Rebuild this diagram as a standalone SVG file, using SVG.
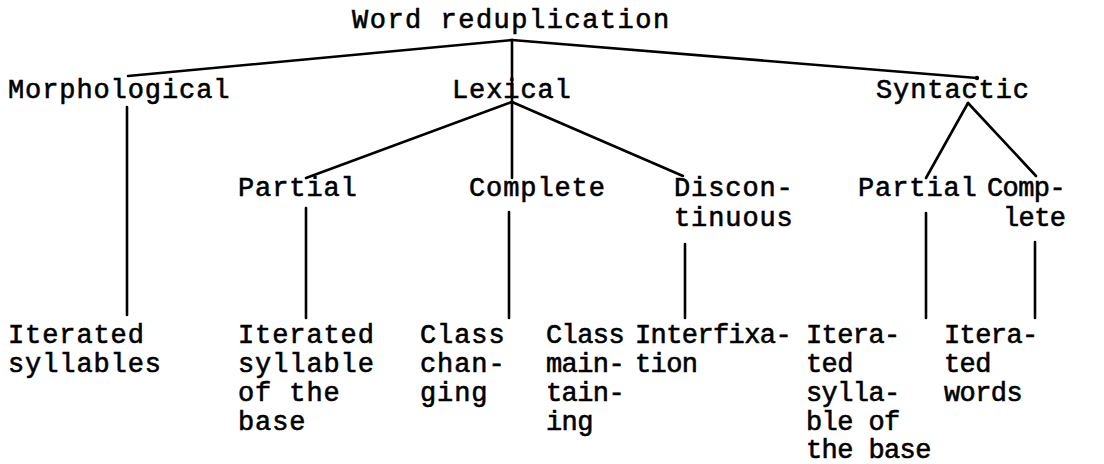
<svg xmlns="http://www.w3.org/2000/svg" width="1104" height="464" viewBox="0 0 1104 464">
  <style>
    text { font-family: "Liberation Mono", "DejaVu Sans Mono", monospace; font-size: 27px; letter-spacing: 0.9px; fill: #000; stroke: #000; stroke-width: 0.6px; }
    text.tight { letter-spacing: -0.6px; }
    text.wide { letter-spacing: 1.5px; }
    .edge { stroke: #000; stroke-width: 2.6; fill: none; stroke-linecap: round; stroke-linejoin: round; }
  </style>
  <rect width="1104" height="464" fill="#fff"/>

  <!-- tree edges -->
  <g id="connectors">
    <line class="edge" x1="512" y1="40" x2="128" y2="76"/>
    <line class="edge" x1="512" y1="40" x2="977" y2="78"/>
    <circle cx="977" cy="78" r="2.2" fill="#000"/>
    <line class="edge" x1="512" y1="40" x2="512" y2="102"/>
    <line class="edge" x1="512" y1="102" x2="306" y2="178"/>
    <line class="edge" x1="512" y1="102" x2="512" y2="178"/>
    <line class="edge" x1="512" y1="102" x2="683" y2="176"/>
    <line class="edge" x1="968" y1="103" x2="926" y2="178"/>
    <line class="edge" x1="968" y1="103" x2="1036" y2="176"/>
    <line class="edge" x1="127" y1="107" x2="127" y2="315"/>
    <line class="edge" x1="306" y1="208" x2="306" y2="318"/>
    <line class="edge" x1="509" y1="212" x2="509" y2="318"/>
    <line class="edge" x1="685" y1="244" x2="685" y2="318"/>
    <line class="edge" x1="926" y1="213" x2="926" y2="318"/>
    <line class="edge" x1="1035" y1="242" x2="1035" y2="318"/>
  </g>

  <g id="root"><text class="wide" x="352" y="28">Word reduplication</text></g>

  <g id="morphological"><text x="8" y="98">Morphological</text></g>
  <g id="lexical"><text x="452" y="98">Lexical</text></g>
  <g id="syntactic"><text x="876" y="98">Syntactic</text></g>

  <g id="lex-partial"><text x="238" y="196">Partial</text></g>
  <g id="lex-complete"><text x="469" y="196">Complete</text></g>
  <g id="lex-discontinuous"><text x="674" y="196">Discon-</text><text x="674" y="226">tinuous</text></g>
  <g id="syn-partial"><text x="858" y="196">Partial</text></g>
  <g id="syn-complete"><text class="tight" x="987" y="196">Comp-</text><text class="tight" x="1003" y="226">lete</text></g>

  <g id="iterated-syllables"><text x="8" y="343">Iterated</text><text x="8" y="372">syllables</text></g>
  <g id="iterated-syllable-base"><text x="238" y="343">Iterated</text><text x="238" y="372">syllable</text><text x="238" y="401">of the</text><text x="238" y="430">base</text></g>
  <g id="class-changing"><text x="420" y="343">Class</text><text x="420" y="372">chan-</text><text x="420" y="401">ging</text></g>
  <g id="class-maintaining"><text class="tight" x="546" y="343">Class</text><text class="tight" x="546" y="372">main-</text><text class="tight" x="546" y="401">tain-</text><text class="tight" x="546" y="430">ing</text></g>
  <g id="interfixation"><text class="tight" x="635" y="343">Interfixa-</text><text class="tight" x="635" y="372">tion</text></g>
  <g id="syn-iterated-syllable"><text class="tight" x="806" y="343">Itera-</text><text class="tight" x="806" y="372">ted</text><text class="tight" x="806" y="401">sylla-</text><text class="tight" x="806" y="430">ble of</text><text class="tight" x="806" y="458">the base</text></g>
  <g id="iterated-words"><text class="tight" x="944" y="343">Itera-</text><text class="tight" x="944" y="372">ted</text><text class="tight" x="944" y="401">words</text></g>
</svg>
